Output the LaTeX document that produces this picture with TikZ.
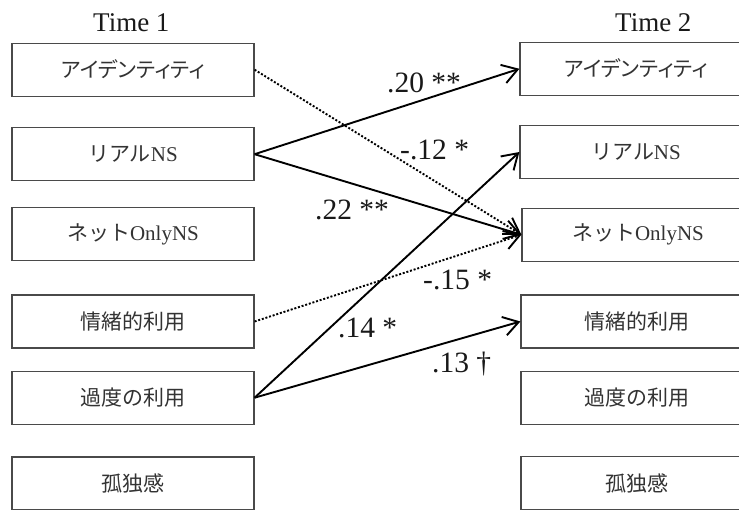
\documentclass[tikz,border=0pt]{standalone}
\usepackage{fontspec}
\usetikzlibrary{arrows.meta}
\setmainfont{Liberation Serif}
\newfontfamily\jp{Noto Sans CJK JP}
\newfontfamily\jpp[RawFeature=+palt]{Noto Sans CJK JP}
\definecolor{boxline}{HTML}{4A4A4A}
\definecolor{boxtext}{HTML}{333333}
\tikzset{
  varbox/.style={draw=boxline, line width=1.2pt, rectangle, inner sep=0pt,
    minimum height=53pt, text=boxtext, font=\fontsize{21}{24}\selectfont},
  lbox/.style={varbox, minimum width=242pt},
  rbox/.style={varbox, minimum width=232pt},
  path/.style={line width=1.9pt, -{Straight Barb[length=15pt,width=19pt]}},
  dotpath/.style={path, dash pattern=on 2pt off 1.8pt},
  coef/.style={anchor=base west, inner sep=0pt, text=black!90, font=\fontsize{29.5}{33}\selectfont},
  ttl/.style={anchor=base west, inner sep=0pt, text=black!90, font=\fontsize{27}{30}\selectfont}
}
\begin{document}
\begin{tikzpicture}[x=1pt,y=-1pt]
\useasboundingbox (0,0) rectangle (739,510);
\clip (0,0) rectangle (739,510);
\fill[white] (0,0) rectangle (739,510);

\node[ttl] (t1) at (93,32) {Time 1};
\node[ttl] (t2) at (615,32) {Time 2};

\node[lbox] (L1) at (133,69.7) {\jpp アイデンティティ};
\node[lbox] (L2) at (133,154.2) {{\jp リアル}NS};
\node[lbox] (L3) at (133,234.2) {{\jp ネット}OnlyNS};
\node[lbox] (L4) at (133,321.5) {\jp 情緒的利用};
\node[lbox] (L5) at (133,397.7) {\jp 過度の利用};
\node[lbox] (L6) at (133,483.5) {\jp 孤独感};

\node[rbox] (R1) at (636,68.8) {\jpp アイデンティティ};
\node[rbox] (R2) at (636,152) {{\jp リアル}NS};
\node[rbox] (R3) at (638,234.7) {{\jp ネット}OnlyNS};
\node[rbox] (R4) at (637,321.5) {\jp 情緒的利用};
\node[rbox] (R5) at (637,397.7) {\jp 過度の利用};
\node[rbox] (R6) at (637,483.3) {\jp 孤独感};

\draw[dotpath] (L1.east) -- (R3.west);
\draw[path] (L2.east) -- (R1.west);
\draw[path] (L2.east) -- (R3.west);
\draw[dotpath] (L4.east) -- (R3.west);
\draw[path] (L5.east) -- (R2.west);
\draw[path] (L5.east) -- (R4.west);

\node[coef] (c1) at (387,93) {.20 **};
\node[coef] (c2) at (400,160) {-.12 *};
\node[coef] (c3) at (315,220) {.22 **};
\node[coef] (c4) at (423,290) {-.15 *};
\node[coef] (c5) at (338,338) {.14 *};
\node[coef] (c6) at (432,373) {.13 \textdagger};
\end{tikzpicture}
\end{document}
